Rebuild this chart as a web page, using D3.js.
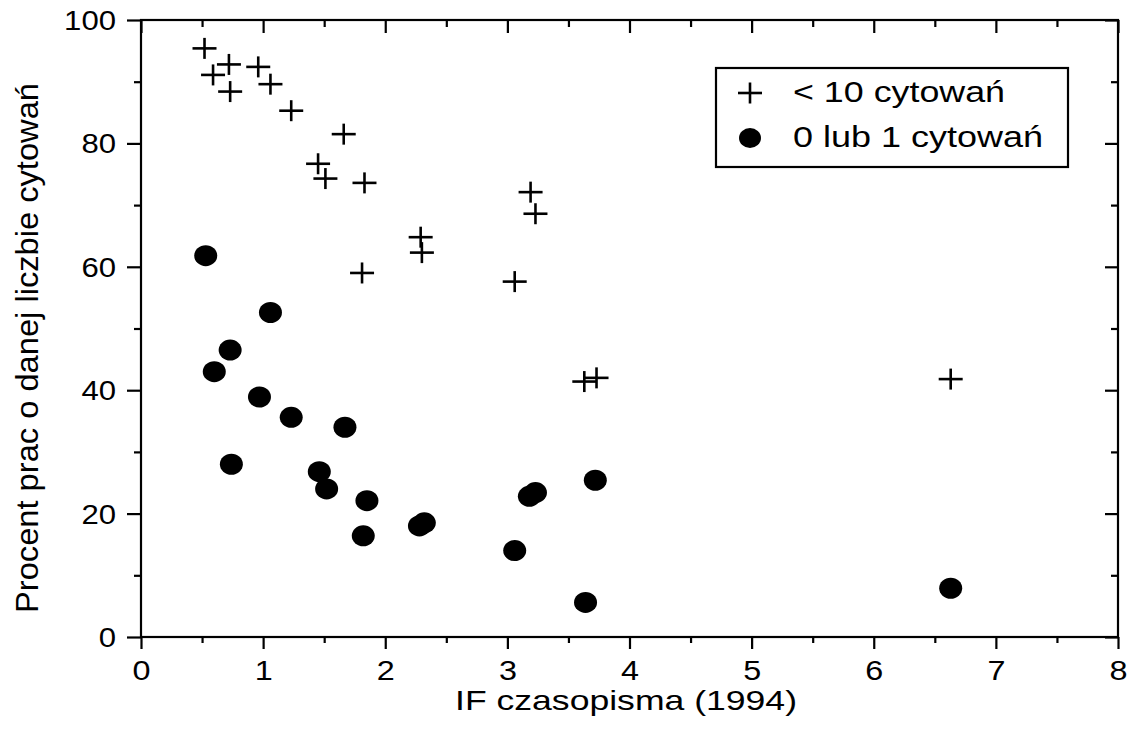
<!DOCTYPE html>
<html>
<head>
<meta charset="utf-8">
<script src="https://cdn.jsdelivr.net/npm/d3@7"></script>
<style>
  html, body { margin: 0; padding: 0; background: #ffffff; }
  svg { display: block; }
  text { font-family: "Liberation Sans", Arial, sans-serif; fill: #000; }
</style>
</head>
<body>
<div id="chart"></div>
<script>
// ---- data ----
const crossX = [0.52, 0.59, 0.72, 0.73, 0.96, 1.06, 1.23, 1.66, 1.45, 1.51, 1.83, 1.81, 2.29, 2.30, 3.19, 3.23, 3.06, 3.63, 3.73, 6.63];
const crossY = [95.4, 91.1, 92.8, 88.4, 92.4, 89.6, 85.3, 81.5, 76.7, 74.3, 73.6, 59.0, 64.8, 62.3, 72.1, 68.6, 57.6, 41.4, 42.0, 41.8];

const dotX = [0.53, 1.06, 0.73, 0.60, 0.97, 1.23, 1.67, 0.74, 1.46, 1.52, 1.85, 1.82, 2.28, 2.32, 3.18, 3.23, 3.72, 3.06, 3.64, 6.63];
const dotY = [61.8, 52.6, 46.5, 43.0, 38.9, 35.6, 34.0, 28.0, 26.8, 24.0, 22.1, 16.4, 18.0, 18.5, 22.8, 23.4, 25.4, 14.0, 5.6, 7.9];

const xTicks = [0, 1, 2, 3, 4, 5, 6, 7, 8];
const xMinorTicks = [0.5, 1.5, 2.5, 3.5, 4.5, 5.5, 6.5, 7.5];
const yTicks = [0, 20, 40, 60, 80, 100];
const yMinorTicks = [10, 30, 50, 70, 90];

const xTitle = "IF czasopisma (1994)";
const yTitle = "Procent prac o danej liczbie cytowań";
const legendLabels = ["< 10 cytowań", "0 lub 1 cytowań"];

// ---- drawing ----
const W = 1135, H = 739;
const svg = d3.select("#chart").append("svg").attr("width", W).attr("height", H);

const x = d3.scaleLinear().domain([0, 8]).range([141, 1118]);
const y = d3.scaleLinear().domain([0, 100]).range([637, 20]);

const axisStroke = 2.2;
function styleAxis(g) {
  g.select(".domain").remove();
  g.selectAll(".tick line").attr("stroke", "#000").attr("stroke-width", axisStroke);
}

// left axis (outward ticks) with labels
const gl = svg.append("g").attr("transform", `translate(${x(0)},0)`)
  .call(d3.axisLeft(y).tickValues(yTicks).tickSize(14).tickFormat(d3.format("d")));
styleAxis(gl);
gl.selectAll(".tick text")
  .attr("x", -25).attr("dy", 0).attr("y", 9.5)
  .attr("font-size", 27)
  .attr("textLength", d => String(d).length * 17.3)
  .attr("lengthAdjust", "spacingAndGlyphs");
const glm = svg.append("g").attr("transform", `translate(${x(0)},0)`)
  .call(d3.axisLeft(y).tickValues(yMinorTicks).tickSize(7).tickFormat(""));
styleAxis(glm);

// bottom axis (outward ticks) with labels
const gb = svg.append("g").attr("transform", `translate(0,${y(0)})`)
  .call(d3.axisBottom(x).tickValues(xTicks).tickSize(12).tickFormat(d3.format("d")));
styleAxis(gb);
gb.selectAll(".tick text")
  .attr("y", 43).attr("dy", 0)
  .attr("font-size", 28)
  .attr("textLength", 18)
  .attr("lengthAdjust", "spacingAndGlyphs");
const gbm = svg.append("g").attr("transform", `translate(0,${y(0)})`)
  .call(d3.axisBottom(x).tickValues(xMinorTicks).tickSize(6).tickFormat(""));
styleAxis(gbm);

// top axis (inward ticks)
const gt = svg.append("g").attr("transform", `translate(0,${y(100)})`)
  .call(d3.axisTop(x).tickValues(xTicks).tickSize(-13).tickFormat(""));
styleAxis(gt);
const gtm = svg.append("g").attr("transform", `translate(0,${y(100)})`)
  .call(d3.axisTop(x).tickValues(xMinorTicks).tickSize(-7).tickFormat(""));
styleAxis(gtm);

// right axis (inward ticks)
const gr = svg.append("g").attr("transform", `translate(${x(8)},0)`)
  .call(d3.axisRight(y).tickValues(yTicks).tickSize(-13).tickFormat(""));
styleAxis(gr);
const grm = svg.append("g").attr("transform", `translate(${x(8)},0)`)
  .call(d3.axisRight(y).tickValues(yMinorTicks).tickSize(-7).tickFormat(""));
styleAxis(grm);

// frame
svg.append("rect")
  .attr("x", x(0)).attr("y", y(100))
  .attr("width", x(8) - x(0)).attr("height", y(0) - y(100))
  .attr("fill", "none").attr("stroke", "#000").attr("stroke-width", axisStroke);

// axis titles
svg.append("text")
  .attr("x", 455).attr("y", 710)
  .attr("font-size", 28)
  .attr("textLength", 342).attr("lengthAdjust", "spacingAndGlyphs")
  .text(xTitle);

svg.append("text")
  .attr("transform", "translate(38,613) rotate(-90)")
  .attr("x", 0).attr("y", 0)
  .attr("font-size", 31)
  .attr("textLength", 530).attr("lengthAdjust", "spacingAndGlyphs")
  .text(yTitle);

// markers
const crossHalfW = 12, crossHalfH = 10.5;
function drawCross(g, cx, cy) {
  g.append("line").attr("x1", cx - crossHalfW).attr("x2", cx + crossHalfW)
    .attr("y1", cy).attr("y2", cy).attr("stroke", "#000").attr("stroke-width", 2.6);
  g.append("line").attr("x1", cx).attr("x2", cx)
    .attr("y1", cy - crossHalfH).attr("y2", cy + crossHalfH).attr("stroke", "#000").attr("stroke-width", 2.6);
}

const crossG = svg.append("g");
crossX.forEach((v, i) => drawCross(crossG, x(v), y(crossY[i])));

svg.append("g").selectAll("ellipse")
  .data(dotX.map((v, i) => [v, dotY[i]]))
  .join("ellipse")
  .attr("cx", d => x(d[0])).attr("cy", d => y(d[1]))
  .attr("rx", 11.5).attr("ry", 10.5)
  .attr("fill", "#000");

// legend
const lg = svg.append("g");
lg.append("rect")
  .attr("x", 716).attr("y", 68).attr("width", 352).attr("height", 99)
  .attr("fill", "#fff").attr("stroke", "#000").attr("stroke-width", 2.2);
drawCross(lg, 750, 93);
lg.append("ellipse").attr("cx", 750).attr("cy", 138).attr("rx", 11).attr("ry", 10).attr("fill", "#000");
lg.append("text").attr("x", 793).attr("y", 102)
  .attr("font-size", 30).attr("textLength", 212).attr("lengthAdjust", "spacingAndGlyphs")
  .text(legendLabels[0]);
lg.append("text").attr("x", 793).attr("y", 147)
  .attr("font-size", 30).attr("textLength", 250).attr("lengthAdjust", "spacingAndGlyphs")
  .text(legendLabels[1]);
</script>
</body>
</html>
